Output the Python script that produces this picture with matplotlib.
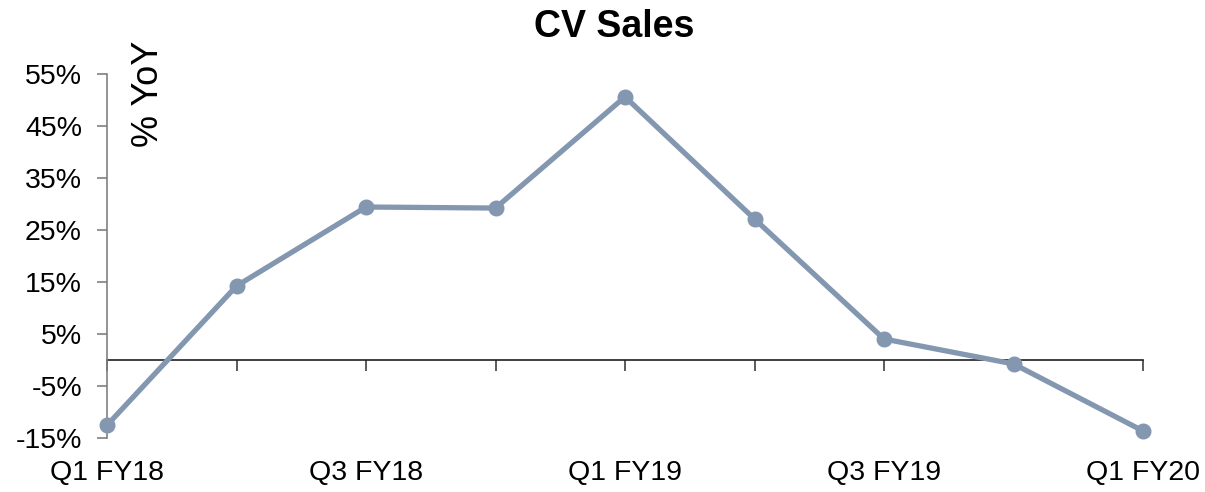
import matplotlib.pyplot as plt
import numpy as np

plt.rcParams['font.family'] = ['Liberation Sans', 'DejaVu Sans']

quarters = ["Q1 FY18", "Q2 FY18", "Q3 FY18", "Q4 FY18", "Q1 FY19",
            "Q2 FY19", "Q3 FY19", "Q4 FY19", "Q1 FY20"]
yoy = [-12.6, 14.2, 29.4, 29.2, 50.6, 27.1, 4.0, -0.8, -13.7]
yticks = [-15, -5, 5, 15, 25, 35, 45, 55]
xlabels = [q if i % 2 == 0 else "" for i, q in enumerate(quarters)]

fig = plt.figure(figsize=(12.05, 4.92), dpi=100)
ax = fig.add_axes([107 / 1205, (492 - 437.7) / 492, (1143 - 107) / 1205, 363.7 / 492])

x = np.arange(len(quarters))
ax.plot(x, yoy, color='#8497B0', lw=3.8, marker='o', ms=10.5, zorder=3, clip_on=False)

ax.set_xlim(0, len(quarters) - 1)
ax.set_ylim(-15, 55)
ax.set_yticks(yticks)
ax.set_yticklabels([f"{v}%" for v in yticks])

for s in ['top', 'right', 'bottom']:
    ax.spines[s].set_visible(False)
ax.spines['left'].set_color('#808080')
ax.spines['left'].set_linewidth(1.2)
ax.tick_params(axis='y', direction='out', length=7, width=1.2, color='#808080',
               labelsize=20.5, pad=11)

ax.set_xticks(x)
ax.set_xticklabels(xlabels)
ax.tick_params(axis='x', length=0, labelsize=20.5, pad=16)

# zero line with category ticks
zero = ax.secondary_xaxis(15 / 70)
zero.set_xticks(x)
zero.set_xticklabels([])
zero.tick_params(axis='x', direction='out', length=8, width=1.2, color='#404040')
zero.spines['bottom'].set_color('#202020')
zero.spines['bottom'].set_linewidth(1.2)

fig.text(614 / 1205, 1 - 27 / 492, "CV Sales", ha='center', va='center',
         fontsize=27, fontweight='bold')
fig.text(149 / 1205, 1 - 94 / 492, "% YoY", ha='center', va='center',
         fontsize=26, rotation=90)

fig.savefig("out.png", dpi=100)
